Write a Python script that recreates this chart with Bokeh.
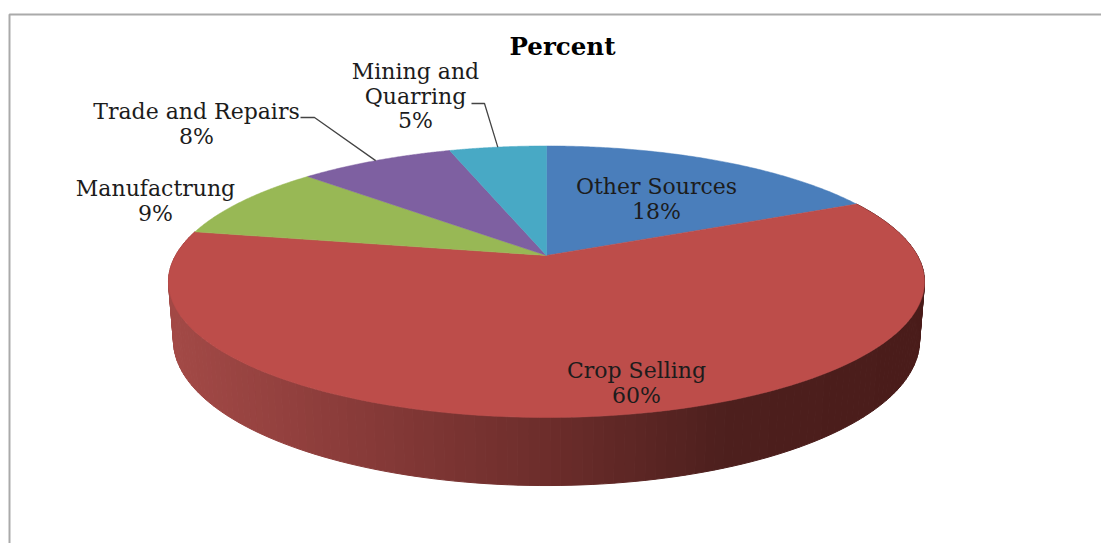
import numpy as np
from bokeh.plotting import figure
from bokeh.models import Range1d
from bokeh.core.properties import value
from bokeh.embed import file_html
from bokeh.resources import INLINE

categories = ["Other Sources", "Crop Selling", "Manufactrung", "Trade and Repairs", "Mining and\nQuarring"]
percents = [18, 60, 9, 8, 5]
colors = ["#4a7ebb", "#bd4d4a", "#98b855", "#7e60a1", "#48a9c5"]
title = "Percent"

# label placement in page pixels: centre x, first-line y
label_x = [656, 636, 155, 196, 415]
label_y = [186, 370, 188, 111, 71]
line_gap = 24.5
FONT = "DejaVu Serif"
FONT_SIZE = "22px"

W, H = 1101, 543
p = figure(width=W, height=H, output_backend="svg", toolbar_location=None,
           x_range=Range1d(0, W), y_range=Range1d(H, 0), min_border=0,
           background_fill_color="white", border_fill_color="white")
p.axis.visible = False
p.grid.visible = False
p.outline_line_color = None

# tilted circle: perspective projection of the disc
K = 0.1933
CX = 546
def disc(pct, a, b, y0):
    t = np.asarray(pct) / 100 * 2 * np.pi
    u, v = np.sin(t), np.cos(t)
    d = 1 + K * v
    return CX + a * u / d, y0 - b * v / d

TOP = (370.9, 130.7, 255.0)
BOT = (366.0, 139.6, 312.0)

# frame
p.line([9, 9, W], [H, 14, 14], line_color="#aaaaaa", line_width=2)

edges = np.cumsum([0] + percents)

# side wall of the large slice, shaded left to right
stops_x = [168, 350, 540, 720, 924]
stops_rgb = np.array([[0xa4, 0x4a, 0x47], [0x8a, 0x3c, 0x3a], [0x6e, 0x2e, 0x2c],
                      [0x4e, 0x20, 0x1e], [0x4a, 0x1c, 0x1a]], float)
i = categories.index("Crop Selling")
steps = np.linspace(edges[i], edges[i + 1], 161)
tx, ty = disc(steps, *TOP)
bx, by = disc(steps, *BOT)
xs, ys, cs = [], [], []
for j in range(len(steps) - 1):
    xs.append([tx[j], tx[j + 1], bx[j + 1], bx[j]])
    ys.append([ty[j], ty[j + 1], by[j + 1], by[j]])
    xm = (tx[j] + tx[j + 1] + bx[j] + bx[j + 1]) / 4
    rgb = [int(np.interp(xm, stops_x, stops_rgb[:, c])) for c in range(3)]
    cs.append("#%02x%02x%02x" % tuple(rgb))
p.patches(xs, ys, fill_color=cs, line_color=cs, line_width=1)

# top face
for j, c in enumerate(colors):
    s = np.linspace(edges[j], edges[j + 1], 120)
    x, y = disc(s, *TOP)
    p.patch(np.r_[CX, x], np.r_[TOP[2], y], fill_color=c, line_color=c, line_width=0.5)

# leader lines for the two outside labels
for name, start in (("Trade and Repairs", (300, 117, 314)), ("Mining and\nQuarring", (471, 103, 484))):
    j = categories.index(name)
    ex, ey = disc([(edges[j] + edges[j + 1]) / 2], *TOP)
    p.line([start[0], start[2], ex[0]], [start[1], start[1], ey[0]], line_color="#444444", line_width=1.3)

# labels
tx_, ty_, tt = [], [], []
for name, pct, lx, ly in zip(categories, percents, label_x, label_y):
    parts = name.split("\n") + [f"{pct}%"]
    for n, part in enumerate(parts):
        tx_.append(lx); ty_.append(ly + n * line_gap); tt.append(part)
p.text(tx_, ty_, text=tt, text_align="center", text_baseline="middle", text_color="#1c1c1c",
       text_font=value(FONT), text_font_size=FONT_SIZE)
p.text([562], [46], text=[title], text_align="center", text_baseline="middle", text_color="#000000",
       text_font=value(FONT), text_font_size="24.5px", text_font_style="bold")

open("out.html", "w").write(file_html(p, INLINE))
